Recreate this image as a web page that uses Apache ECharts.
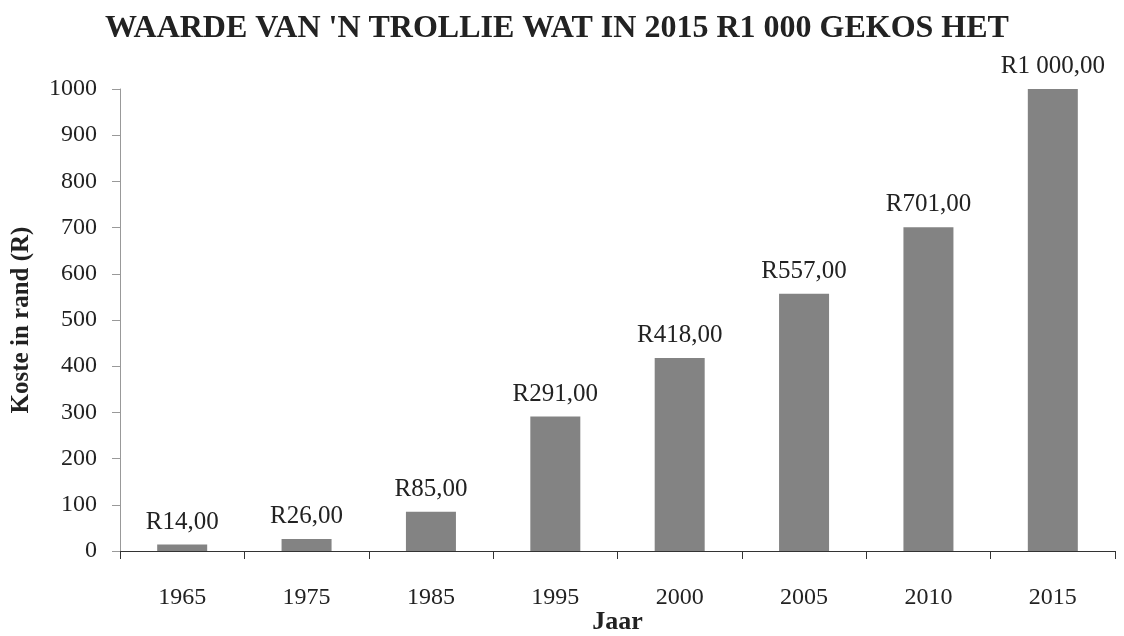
<!DOCTYPE html>
<html>
<head>
    <meta charset="utf-8" />
    <title>Trollie</title>
    <script src="https://cdn.jsdelivr.net/npm/echarts@6/dist/echarts.min.js"></script>
</head>
<body style="margin:0">
    <div id="main" style="width: 1124px;height: 636px;"></div>
    <script type="text/javascript">
        var years = ['1965', '1975', '1985', '1995', '2000', '2005', '2010', '2015'];
        var costs = [14, 26, 85, 291, 418, 557, 701, 1000];
        var costLabels = ['R14,00', 'R26,00', 'R85,00', 'R291,00', 'R418,00', 'R557,00', 'R701,00', 'R1 000,00'];

        var serif = '"Liberation Serif", "DejaVu Serif", serif';
        var myChart = echarts.init(document.getElementById('main'));

        var option = {
            backgroundColor: '#fff',
            animation: false,
            title: {
                text: "WAARDE VAN 'N TROLLIE WAT IN 2015 R1 000 GEKOS HET",
                left: 552,
                textAlign: 'center',
                top: 8,
                textStyle: { fontFamily: serif, fontSize: 32, fontWeight: 'bold', color: '#222' }
            },
            grid: { left: 120, right: 9, top: 89, bottom: 85, containLabel: false, outerBoundsMode: 'none' },
            xAxis: {
                type: 'category',
                data: years,
                name: 'Jaar',
                nameLocation: 'middle',
                nameGap: 58,
                nameMoveOverlap: false,
                nameTextStyle: { fontFamily: serif, fontSize: 26, fontWeight: 'bold', color: '#222' },
                axisLine: { lineStyle: { color: '#333', width: 1 } },
                axisTick: { show: true, length: 8, lineStyle: { color: '#333' } },
                axisLabel: { fontFamily: serif, fontSize: 24, color: '#222', margin: 35 }
            },
            yAxis: {
                type: 'value',
                min: 0,
                max: 1000,
                interval: 100,
                name: 'Koste in rand (R)',
                nameLocation: 'middle',
                nameGap: 86,
                nameMoveOverlap: false,
                nameTextStyle: { fontFamily: serif, fontSize: 25, fontWeight: 'bold', color: '#222' },
                axisLine: { show: true, lineStyle: { color: '#999' } },
                axisTick: { show: true, length: 8, lineStyle: { color: '#999' } },
                axisLabel: {
                    fontFamily: serif, fontSize: 24, color: '#222', margin: 23,
                    formatter: function (v) { return String(v); }
                },
                splitLine: { show: false }
            },
            series: [{
                type: 'bar',
                data: costs,
                barWidth: 50,
                itemStyle: { color: '#838383' },
                label: {
                    show: true,
                    position: 'top',
                    distance: 10,
                    fontFamily: serif,
                    fontSize: 25,
                    color: '#222',
                    formatter: function (p) { return costLabels[p.dataIndex]; }
                }
            }]
        };

        myChart.setOption(option);
    </script>
</body>
</html>
